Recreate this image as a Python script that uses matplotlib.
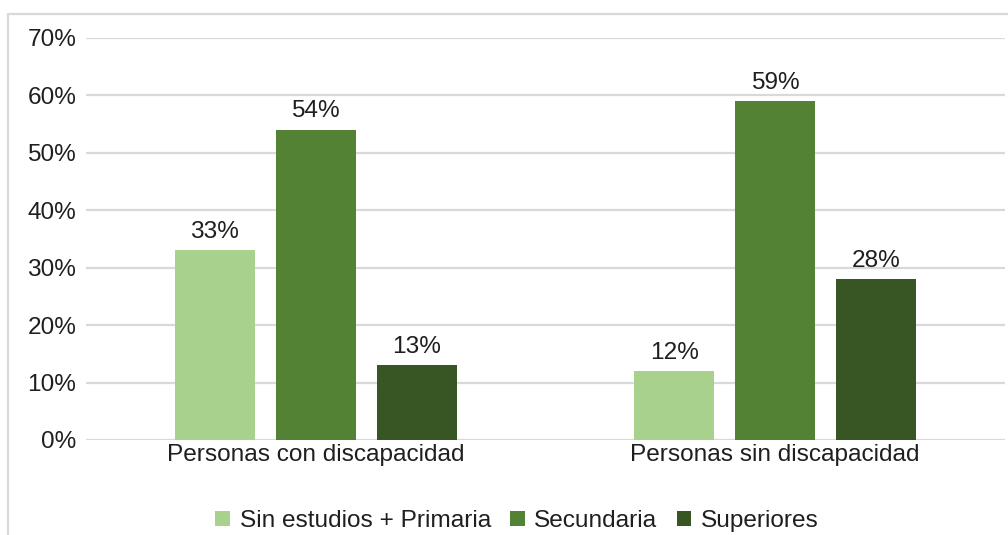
import numpy as np
import matplotlib
matplotlib.use('Agg')
from matplotlib import pyplot as plt
from matplotlib.patches import Rectangle

categories = ['Personas con discapacidad', 'Personas sin discapacidad']
series_names = ['Sin estudios + Primaria', 'Secundaria', 'Superiores']
values = [
    [33, 12],   # Sin estudios + Primaria
    [54, 59],   # Secundaria
    [13, 28],   # Superiores
]
colors = ['#a9d18e', '#548235', '#375623']
yticks = [0, 10, 20, 30, 40, 50, 60, 70]

plt.rcParams['font.family'] = ['Liberation Sans', 'DejaVu Sans']
text_color = '#1f1f1f'
fs = 17.6

fig = plt.figure(figsize=(10.08, 5.35), dpi=100)
ax = fig.add_axes([0.0853, 0.1776, 0.9117, 0.7514])

x = np.arange(len(categories))
width = 0.174
offset = 0.22
for i, (name, vals) in enumerate(zip(series_names, values)):
    pos = x + (i - 1) * offset
    bars = ax.bar(pos, vals, width=width, color=colors[i], label=name, zorder=3)
    for b, v in zip(bars, vals):
        ax.text(b.get_x() + b.get_width() / 2, v + 1.3, '%d%%' % v,
                ha='center', va='bottom', fontsize=fs, color=text_color)

ax.set_xlim(-0.5, 1.5)
ax.set_ylim(0, 70)
ax.set_yticks(yticks)
ax.set_yticklabels(['%d%%' % t for t in yticks])
ax.set_xticks(x)
ax.set_xticklabels(categories)
ax.tick_params(axis='both', length=0, labelsize=fs, colors=text_color)
ax.tick_params(axis='y', pad=7)
ax.tick_params(axis='x', pad=3)
ax.grid(axis='y', color='#d9d9d9', linewidth=1.6, zorder=0)
for s in ax.spines.values():
    s.set_visible(False)

leg = ax.legend(loc='center', bbox_to_anchor=(0.469, (1 - 521 / 535 - 0.1776) / 0.7514),
                ncol=3, frameon=False, fontsize=fs, handlelength=0.6, handleheight=0.6,
                handletextpad=0.4, columnspacing=0.78)
for t in leg.get_texts():
    t.set_color(text_color)

# outer chart border (partly cropped in the reference)
fig.patches.append(Rectangle((8 / 1008, -0.1), 1.2, 1.1 - 14 / 535,
                             transform=fig.transFigure, fill=False,
                             edgecolor='#d9d9d9', linewidth=1.6))

fig.savefig('out.png', dpi=100)
